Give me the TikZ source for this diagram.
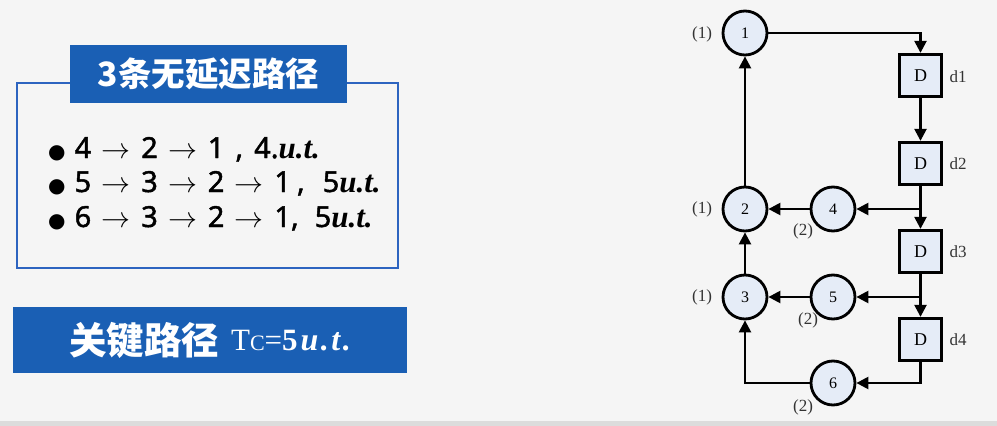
\RequirePackage{fix-cm}
\documentclass[tikz,border=0pt]{standalone}
\usepackage{fontspec}
\setmainfont{Liberation Serif}
\newfontfamily\cjk{Noto Sans CJK SC}
\newfontfamily\lat{Noto Sans}[FakeBold=1.6]
\newfontfamily\djv{DejaVu Sans}
\usetikzlibrary{arrows.meta}
\definecolor{bg}{HTML}{F5F5F5}
\definecolor{band}{HTML}{DCDCDC}
\definecolor{boxblue}{HTML}{1A5FB4}
\definecolor{lineblue}{HTML}{2D64C0}
\definecolor{nodefill}{HTML}{E5ECF7}
\definecolor{lbl}{HTML}{333333}
\newcommand\myra{\hspace{10.5pt}$\rightarrow$\hspace{10.5pt}}
\newcommand\myut{{\rmfamily\bfseries\itshape\fontsize{31}{31}\selectfont u.t.}}
\newcommand\mybul{{\djv\fontsize{20}{20}\selectfont ●}\hspace{9pt}}
\begin{document}
\begin{tikzpicture}[x=1pt,y=-1pt,
  circ/.style={circle, draw, line width=2.8pt, fill=nodefill, minimum size=44pt, inner sep=0pt, font=\fontsize{16}{16}\selectfont},
  dbox/.style={rectangle, draw, line width=2.8pt, fill=nodefill, minimum size=42.5pt, inner sep=0pt, font=\fontsize{18}{18}\selectfont},
  lab/.style={text=lbl, font=\fontsize{17}{17}\selectfont, inner sep=0pt},
  conn/.style={line width=2.4pt, -{Triangle[length=12pt,width=12pt]}},
  bl/.style={anchor=base west, inner sep=0pt, font=\lat\fontsize{29}{29}\selectfont},
  bluebox/.style={fill=boxblue, inner sep=0pt, text=white}
]
\fill[bg] (0,0) rectangle (997,426);
\fill[band] (0,421) rectangle (997,426);
\useasboundingbox (0,0) rectangle (997,426);

% left panel
\draw[lineblue, line width=2pt] (17,83) rectangle (398,268);
\node[bluebox, minimum width=277pt, minimum height=58pt, font=\cjk\bfseries\fontsize{33.5}{33.5}\selectfont] (title) at (208.5,74) {3条无延迟路径};
\node[bl] (l1) at (48,158) {\mybul 4\myra 2\myra 1\hspace{11pt},\hspace{11pt}4.\myut};
\node[bl] (l2) at (48,192) {\mybul 5\myra 3\myra 2\myra 1\hspace{6pt},\hspace{18pt}5\myut};
\node[bl] (l3) at (48,227) {\mybul 6\myra 3\myra 2\myra 1,\hspace{16pt}5\myut};
\node[bluebox, minimum width=394pt, minimum height=66pt] (crit) at (210,340)
  {{\cjk\bfseries\fontsize{37.5}{37.5}\selectfont 关键路径}\hspace{12pt}\raisebox{4pt}{\fontsize{31}{31}\selectfont T{\fontsize{22}{22}\selectfont C}=\textbf{5}\hspace{3pt}\bfseries\itshape\fontsize{32}{32}\selectfont u\kern2.5pt.\kern2.5pt t\kern2.5pt.}};

% right diagram
\node[circ] (n1) at (745,33) {1};
\node[circ] (n2) at (745,209) {2};
\node[circ] (n3) at (745,297) {3};
\node[circ] (n4) at (833,209) {4};
\node[circ] (n5) at (833,297) {5};
\node[circ] (n6) at (833,383) {6};
\node[dbox] (d1) at (920.5,75.5) {D};
\node[dbox] (d2) at (920.5,163.5) {D};
\node[dbox] (d3) at (920.5,251.5) {D};
\node[dbox] (d4) at (920.5,339.5) {D};

\node[lab] (p1) at (702,34) {(1)};
\node[lab] (p2) at (702,209) {(1)};
\node[lab] (p3) at (702,297) {(1)};
\node[lab] (q4) at (803,231) {(2)};
\node[lab] (q5) at (808,320) {(2)};
\node[lab] (q6) at (803,407) {(2)};
\node[lab] (t1) at (958,77) {d1};
\node[lab] (t2) at (958,164) {d2};
\node[lab] (t3) at (958,252) {d3};
\node[lab] (t4) at (958,340) {d4};

\coordinate (b4) at (d2 |- n4);
\coordinate (b5) at (d3 |- n5);
\draw[conn] (n1) -| (d1);
\draw[conn] (d1) -- (d2);
\draw[conn] (d2) -- (d3);
\draw[conn] (d3) -- (d4);
\draw[conn] (b4) -- (n4);
\draw[conn] (b5) -- (n5);
\draw[conn] (d4) |- (n6);
\draw[conn] (n6) -| (n3);
\draw[conn] (n4) -- (n2);
\draw[conn] (n5) -- (n3);
\draw[conn] (n3) -- (n2);
\draw[conn] (n2) -- (n1);
\end{tikzpicture}
\end{document}
